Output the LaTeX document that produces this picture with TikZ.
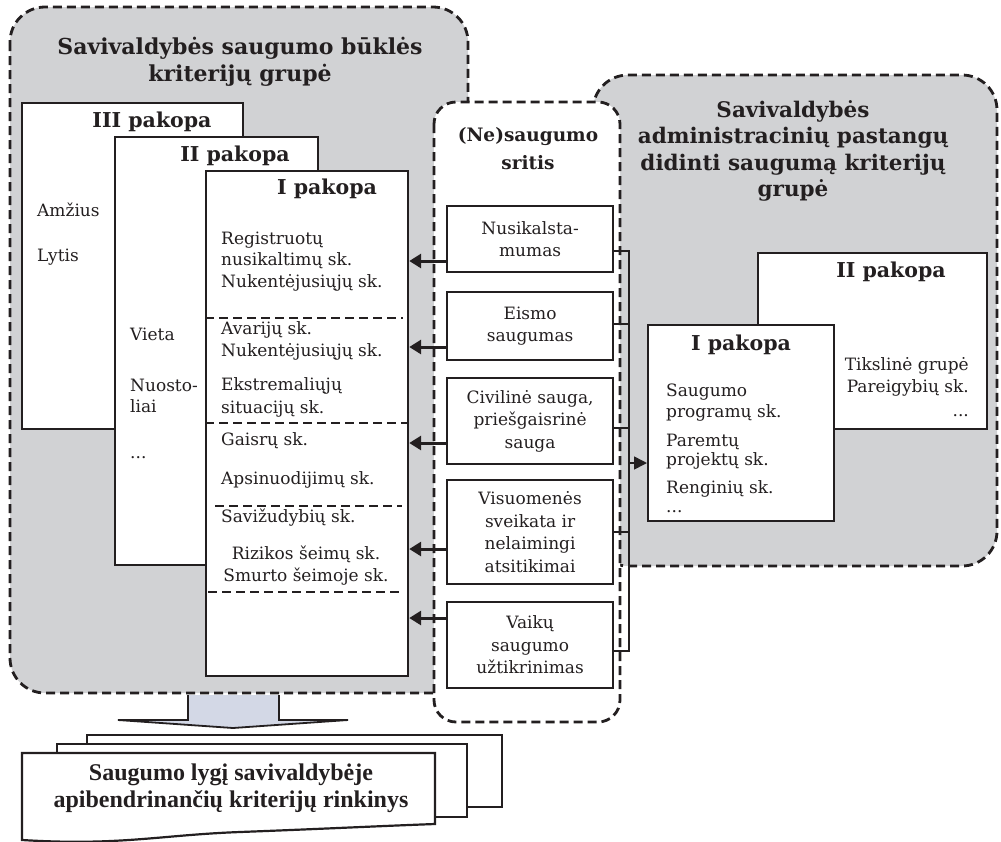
\documentclass[tikz,border=0pt]{standalone}
\usepackage{fontspec}
\setmainfont{DejaVu Serif}
\newfontfamily\btmfont{Liberation Serif}
\usetikzlibrary{arrows.meta}
\definecolor{ink}{HTML}{231F20}
\definecolor{grp}{HTML}{D1D2D4}
\definecolor{arrfill}{HTML}{D3D8E6}
\begin{document}
\begin{tikzpicture}[x=1pt,y=-1pt,
  grpborder/.style={draw=ink, line width=2.8pt, dash pattern=on 9pt off 5pt, rounded corners=35pt},
  box/.style={draw=ink, line width=2.2pt, fill=white, anchor=north west, inner sep=0pt},
  sbox/.style={draw=ink, line width=2.2pt, fill=white, anchor=north west, inner sep=0pt,
     minimum width=166pt, align=center, text=ink, font=\fontsize{17}{22.5}\selectfont},
  txt/.style={inner sep=0pt, text=ink, font=\fontsize{17}{21.5}\selectfont},
  ttl/.style={inner sep=0pt, text=ink, font=\bfseries\fontsize{20.5}{24}\selectfont, anchor=mid},
  head/.style={inner sep=0pt, text=ink, font=\bfseries\fontsize{22}{27}\selectfont, align=center},
  dline/.style={draw=ink, line width=2.8pt, dash pattern=on 9pt off 5pt},
  arrL/.style={draw=ink, line width=3pt, -{Triangle[length=12pt,width=14pt]}},
  arrR/.style={draw=ink, line width=1.6pt, -{Triangle[length=13pt,width=13pt]}},
  busline/.style={draw=ink, line width=1.6pt},
  doc/.style={draw=ink, line width=2.2pt, fill=white}
]
\useasboundingbox (0,0) rectangle (1001,841);

% group backgrounds
\path[grpborder, fill=grp] (10,7) rectangle (468,693);
\path[grpborder, fill=grp] (593,75) rectangle (997,566);
\path[grpborder, fill=white, rounded corners=22pt] (434,102) rectangle (620,722);

% headings
\node[head] (hL) at (240,62) {Savivaldybės saugumo būklės\\kriterijų grupė};
\node[head, font=\bfseries\fontsize{21.5}{26.5}\selectfont] (hR) at (793,151) {Savivaldybės\\administracinių pastangų\\didinti saugumą kriterijų\\grupė};
\node[head, font=\bfseries\fontsize{18.5}{28}\selectfont] (hM) at (528,149) {(Ne)saugumo\\sritis};

% left stacks
\node[box, minimum width=221pt, minimum height=326pt] (III) at (21,102) {};
\node[ttl] (tIII) at (152,125) {III pakopa};
\node[txt, anchor=mid west] (amz) at (37,214) {Amžius};
\node[txt, anchor=mid west] (lyt) at (37,259) {Lytis};

\node[box, minimum width=203pt, minimum height=428pt] (II) at (114,136) {};
\node[ttl] (tII) at (235,159) {II pakopa};
\node[txt, anchor=mid west] (vie) at (130,338) {Vieta};
\node[txt, anchor=west, align=left] (nuo) at (130,396) {Nuosto-\\liai};
\node[txt, anchor=base west] (dotsII) at (130,458) {...};

\node[box, minimum width=202pt, minimum height=505pt] (I) at (205,170) {};
\node[ttl] (tI) at (327,192) {I pakopa};
\node[txt, anchor=west, align=left] (reg) at (221,261.5) {Registruotų\\nusikaltimų sk.\\Nukentėjusiųjų sk.};
\node[txt, anchor=west, align=left] (ava) at (221,341) {Avarijų sk.\\Nukentėjusiųjų sk.};
\node[txt, anchor=west, align=left, font=\fontsize{17}{23}\selectfont] (eks) at (221,397.5) {Ekstremaliųjų\\situacijų sk.};
\node[txt, anchor=mid west] (gai) at (221,443) {Gaisrų sk.};
\node[txt, anchor=mid west] (aps) at (221,482) {Apsinuodijimų sk.};
\node[txt, anchor=mid west] (sav) at (221,520) {Savižudybių sk.};
\node[txt, align=center, font=\fontsize{17}{22}\selectfont] (riz) at (306,566) {Rizikos šeimų sk.\\Smurto šeimoje sk.};

\draw[dline] (I.west |- 0,318) -- (403,318);
\draw[dline] (I.west |- 0,423) -- (I.east |- 0,423);
\draw[dline] (215,506) -- (402,506);
\draw[dline] (208,592) -- (402,592);

% middle column boxes
\node[sbox, minimum height=66pt] (nus) at (446,205) {Nusikalsta-\\mumas};
\node[sbox, minimum height=68pt] (eis) at (446,291) {Eismo\\saugumas};
\node[sbox, minimum height=86pt] (civ) at (446,377) {Civilinė sauga,\\priešgaisrinė\\sauga};
\node[sbox, minimum height=104pt] (vis) at (446,479) {Visuomenės\\sveikata ir\\nelaimingi\\atsitikimai};
\node[sbox, minimum height=86pt] (vai) at (446,601) {Vaikų\\saugumo\\užtikrinimas};

% arrows to the left
\coordinate (a1) at (nus.west |- 0,261);
\coordinate (a2) at (eis.west |- 0,347);
\coordinate (a3) at (civ.west |- 0,443);
\coordinate (a4) at (vis.west |- 0,549);
\coordinate (a5) at (vai.west |- 0,618);
\foreach \c in {a1,a2,a3,a4,a5} \draw[arrL] (\c) -- (\c -| I.east);

% right group boxes
\node[box, minimum width=229pt, minimum height=176pt] (rII) at (757,252) {};
\node[ttl] (trII) at (891,275) {II pakopa};
\node[txt, anchor=east, align=right] (tik) at (969,377) {Tikslinė grupė\\Pareigybių sk.};
\node[txt, anchor=base east] (dotsR) at (969,416) {...};

\node[box, minimum width=186pt, minimum height=196pt] (rI) at (647,324) {};
\node[ttl] (trI) at (741,348) {I pakopa};
\node[txt, anchor=west, align=left] (sp) at (666,402.5) {Saugumo\\programų sk.};
\node[txt, anchor=west, align=left, font=\fontsize{17}{19}\selectfont] (pp) at (666,451.5) {Paremtų\\projektų sk.};
\node[txt, anchor=mid west] (ren) at (666,491) {Renginių sk.};
\node[txt, anchor=base west] (dotsI) at (666,512) {...};

% bus
\coordinate (busTop) at (629,251);
\coordinate (busBot) at (629,651);
\draw[busline] (nus.east |- busTop) -- (busTop) -- (busBot) -- (vai.east |- busBot);
\draw[busline] (eis.east |- 0,324) -- (busTop |- 0,324);
\draw[busline] (civ.east |- 0,428) -- (busTop |- 0,428);
\draw[busline] (vis.east |- 0,532) -- (busTop |- 0,532);
\coordinate (busArr) at (629,463);
\draw[arrR] (busArr) -- (busArr -| rI.west);

% block arrow
\draw[draw=ink, line width=1.8pt, fill=arrfill, line join=miter]
  (188,695) -- (188,720) -- (118,720) -- (233,728) -- (348,720) -- (279,720) -- (279,695);

% stacked document
\draw[doc] (87,735) rectangle (502,807);
\draw[doc] (57,744) rectangle (467,817);
\draw[doc] (22,753) -- (435,753) -- (435,824)
  .. controls (380,826) and (320,829) .. (240,832)
  .. controls (160,835) and (120,846) .. (22,840) -- cycle;
\node[inner sep=0pt, text=ink, align=center, font=\btmfont\bfseries\fontsize{24}{27}\selectfont] (res) at (231,788)
  {Saugumo lygį savivaldybėje\\apibendrinančių kriterijų rinkinys};
\end{tikzpicture}
\end{document}
